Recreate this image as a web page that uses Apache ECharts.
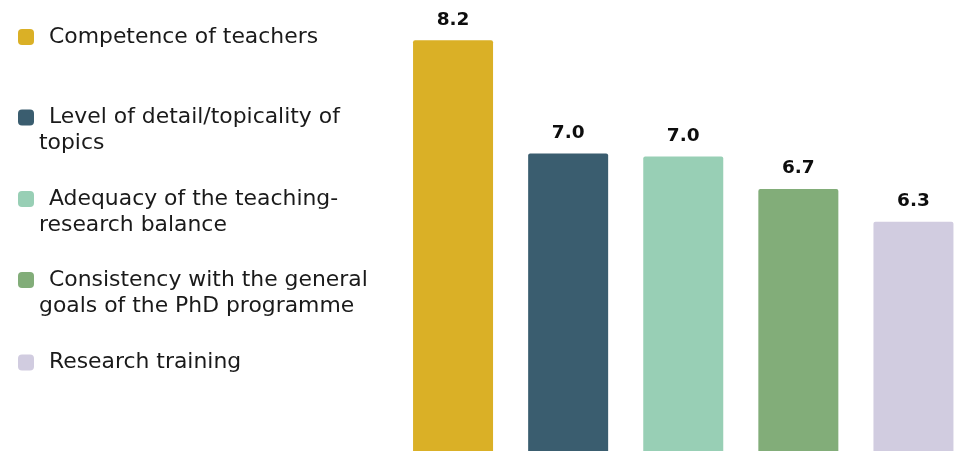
<!DOCTYPE html>
<html>
<head>
<meta charset="utf-8">
<script src="https://cdn.jsdelivr.net/npm/echarts@6/dist/echarts.min.js"></script>
<style>
html,body{margin:0;padding:0;background:#fff;}
#chart{width:974px;height:451px;}
</style>
</head>
<body>
<div id="chart"></div>
<script>
const categories = [
  'Competence of teachers',
  'Level of detail/topicality of topics',
  'Adequacy of the teaching-research balance',
  'Consistency with the general goals of the PhD programme',
  'Research training'
];
const legendLines = [
  ['Competence of teachers'],
  ['Level of detail/topicality of', 'topics'],
  ['Adequacy of the teaching-', 'research balance'],
  ['Consistency with the general', 'goals of the PhD programme'],
  ['Research training']
];
const values = [8.21, 7.03, 7.00, 6.66, 6.32];

const colors = ['#DAB026', '#3A5D6F', '#98CFB5', '#82AD79', '#D1CCE0'];
const iconCenters = [37, 117.5, 199, 280, 362.5];

const chart = echarts.init(document.getElementById('chart'));

const series = categories.map((name, i) => ({
  name: name,
  type: 'bar',
  stack: 'all',
  barWidth: 80,
  data: values.map((v, j) => (j === i ? v : null)),
  itemStyle: { color: colors[i], borderRadius: [2, 2, 0, 0] },
  label: {
    show: true,
    position: 'top',
    distance: 11,
    formatter: p => (p.value == null ? '' : p.value.toFixed(1)),
    fontFamily: 'DejaVu Sans',
    fontWeight: 'bold',
    fontSize: 18.5,
    color: '#0d0d0d'
  },
  emphasis: { disabled: true }
}));

const legends = categories.map((name, i) => {
  const lines = legendLines[i];
  const two = lines.length > 1;
  const top = two ? iconCenters[i] - 39 : iconCenters[i] - 13;
  return {
    data: [name],
    orient: 'vertical',
    left: 18,
    top: top,
    padding: 0,
    itemWidth: 16,
    itemHeight: 16,
    icon: 'roundRect',
    selectedMode: false,
    formatter: () => '{i| }' + lines.join('\n'),
    textStyle: {
      fontFamily: 'DejaVu Sans',
      fontSize: 21.9,
      color: '#1a1a1a',
      lineHeight: 26,
      padding: two ? [26, 0, 0, 0] : 0,
      rich: {
        i: { width: 10, lineHeight: 26, fontSize: 21.9, fontFamily: 'DejaVu Sans' }
      }
    }
  };
});

chart.setOption({
  animation: false,
  backgroundColor: '#ffffff',
  legend: legends,
  grid: { left: 395.5, right: 3, top: 0, bottom: 0 },
  xAxis: {
    type: 'category',
    data: categories,
    show: false
  },
  yAxis: {
    type: 'value',
    min: 3.93,
    max: 8.63,
    show: false,
    splitLine: { show: false }
  },
  series: series
});
</script>
</body>
</html>
